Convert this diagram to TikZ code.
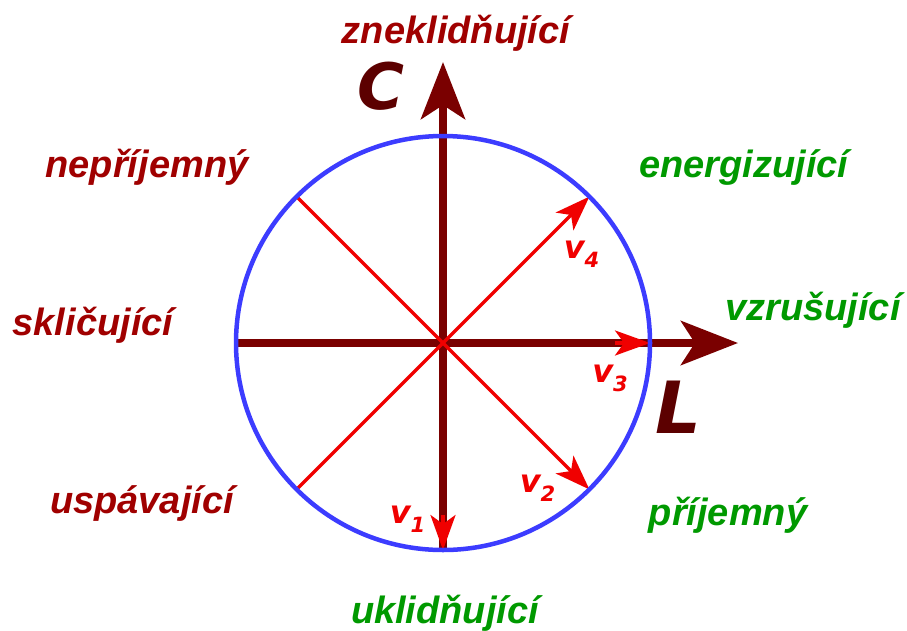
\documentclass[tikz,border=0pt]{standalone}
\usepackage{fontspec}
\setmainfont{Liberation Sans}
\newfontfamily\dvfont{DejaVu Sans}
\usetikzlibrary{arrows.meta}
\definecolor{axisred}{RGB}{122,0,0}
\definecolor{letterred}{RGB}{92,0,0}
\definecolor{labred}{RGB}{160,0,0}
\definecolor{labgreen}{RGB}{0,153,0}
\definecolor{circblue}{RGB}{60,60,255}
\definecolor{vred}{RGB}{240,0,0}
\tikzset{
  axisline/.style={draw=axisred, line width=8pt, -{Stealth[length=57pt,width=44pt,inset=14pt]}},
  vline/.style={draw=vred, line width=3.5pt},
  varrow/.style={draw=vred, line width=3.5pt, -{Stealth[length=35pt,width=25pt,inset=9pt]}},
  circ/.style={draw=circblue, line width=4.5pt},
  lab/.style={anchor=base, inner sep=0pt, font=\fontsize{38}{38}\selectfont\bfseries\itshape},
  redlab/.style={lab, text=labred},
  greenlab/.style={lab, text=labgreen},
  axlab/.style={anchor=base, inner sep=0pt, text=letterred, font=\dvfont\bfseries\itshape},
  vlab/.style={anchor=base, inner sep=0pt, text=vred, font=\dvfont\bfseries\itshape}
}
\newcommand{\vsub}[1]{{\fontsize{32}{32}\selectfont v}\kern0pt\raisebox{-9pt}{\fontsize{21}{21}\selectfont #1}}
\begin{document}
\begin{tikzpicture}[x=1pt,y=-1pt]
\useasboundingbox (0,0) rectangle (907,630);
% key points
\coordinate (O) at (443,343);
\coordinate (Ttip) at (443,62);
\coordinate (Bot) at (443,550);
\coordinate (Lft) at (238,343);
\coordinate (Rtip) at (738,343);
\coordinate (Rc) at (650,343);
\coordinate (UR) at (589.4,196.6);
\coordinate (DR) at (589.4,489.4);
\coordinate (UL) at (296.6,196.6);
\coordinate (DL) at (296.6,489.4);
\coordinate (v1s) at (443,515);
\coordinate (v3s) at (615,343);
% axes
\draw[axisline] (Bot) -- (Ttip);
\draw[axisline] (Lft) -- (Rtip);
% red vectors
\draw[vline] (O) -- (UL);
\draw[vline] (O) -- (DL);
\draw[varrow] (O) -- (UR);
\draw[varrow] (O) -- (DR);
\draw[varrow] (v1s) -- (Bot);
\draw[varrow] (v3s) -- (Rc);
% circle
\draw[circ] (O) circle[radius=207];
% axis letters
\node[axlab, font=\dvfont\bfseries\itshape\fontsize{64}{64}\selectfont] (Cl) at (381,109) {C};
\node[axlab, font=\dvfont\bfseries\itshape\fontsize{72}{72}\selectfont] (Ll) at (678,433) {L};
% vector labels
\node[vlab] (v1) at (407.5,523) {\vsub{1}};
\node[vlab] (v2) at (537.5,492) {\vsub{2}};
\node[vlab] (v3) at (610,382) {\vsub{3}};
\node[vlab] (v4) at (581.5,258) {\vsub{4}};
% word labels
\node[redlab] (zn) at (456,43) {zneklidňující};
\node[redlab] (np) at (147,177) {nepříjemný};
\node[redlab] (sk) at (93,335) {skličující};
\node[redlab] (us) at (142,513) {uspávající};
\node[greenlab] (en) at (744,177) {energizující};
\node[greenlab] (vz) at (813,320) {vzrušující};
\node[greenlab] (pr) at (728,525) {příjemný};
\node[greenlab] (uk) at (445,623) {uklidňující};
\end{tikzpicture}
\end{document}
